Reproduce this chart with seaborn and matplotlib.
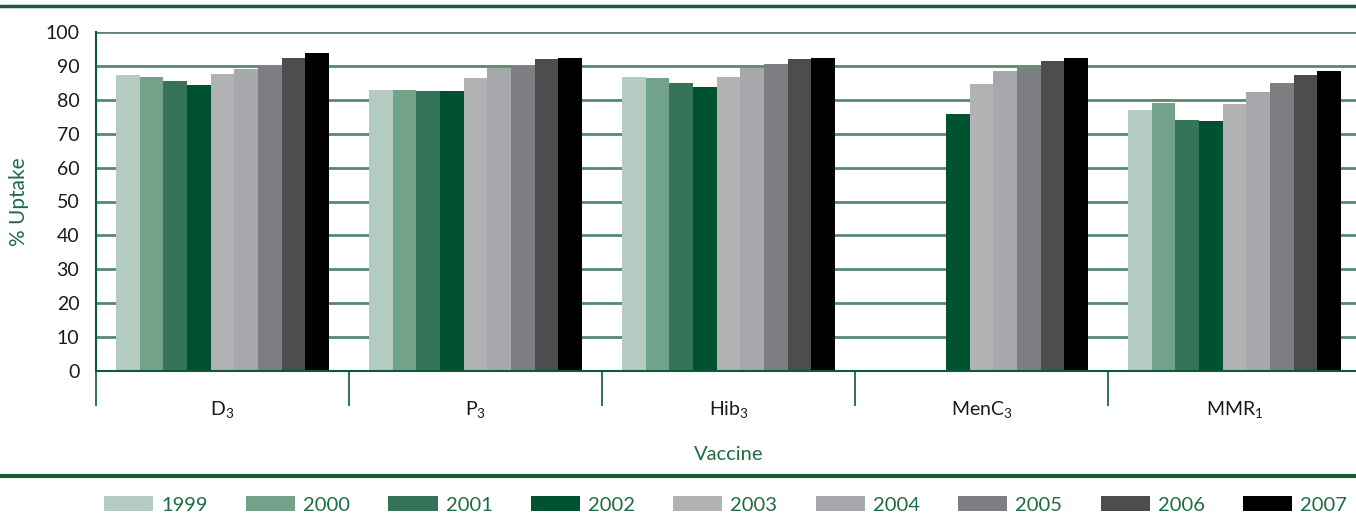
import matplotlib
matplotlib.use("Agg")
import numpy as np
import pandas as pd
import matplotlib.pyplot as plt
import seaborn as sns
from matplotlib.lines import Line2D

# data
vaccines = ["D$_3$", "P$_3$", "Hib$_3$", "MenC$_3$", "MMR$_1$"]
years = ["1999", "2000", "2001", "2002", "2003", "2004", "2005", "2006", "2007"]
d3 = [87.2, 86.6, 85.5, 84.3, 87.5, 89.0, 90.0, 92.3, 93.8]
p3 = [82.8, 82.8, 82.5, 82.5, 86.3, 89.3, 90.1, 92.0, 92.3]
hib3 = [86.6, 86.3, 84.9, 83.7, 86.6, 89.3, 90.5, 92.0, 92.3]
menc3 = [np.nan, np.nan, np.nan, 75.7, 84.6, 88.4, 89.3, 91.4, 92.3]
mmr1 = [77.1, 79.2, 73.9, 73.6, 78.9, 82.2, 84.9, 87.2, 88.4]
colors = ["#b4cbc1", "#73a28b", "#357459", "#005230", "#b1b2b4",
          "#a7a8ac", "#7d7e82", "#4d4d4f", "#000000"]

rows = []
for vac, vals in zip(vaccines, [d3, p3, hib3, menc3, mmr1]):
    for yr, v in zip(years, vals):
        rows.append({"Vaccine": vac, "Year": yr, "Uptake": v})
df = pd.DataFrame(rows)

sns.set_style("white")
plt.rcParams["font.family"] = ["Lato", "DejaVu Sans"]
plt.rcParams["mathtext.default"] = "regular"

green = "#1f6b44"
grid_green = "#548a70"

fig = plt.figure(figsize=(13.56, 5.14), dpi=100)
ax = fig.add_axes([96 / 1356, (514 - 371) / 514, 1265 / 1356, 339 / 514])

sns.barplot(data=df, x="Vaccine", y="Uptake", hue="Year", hue_order=years,
            order=vaccines, palette=colors, width=0.84, gap=0,
            saturation=1, linewidth=0, errorbar=None, ax=ax)

ax.set_ylim(0, 100)
ax.set_xlim(-0.5, len(vaccines) - 0.5)
ax.set_yticks(range(0, 101, 10))
ax.yaxis.grid(True, color=grid_green, linewidth=2)
ax.set_axisbelow(True)
for s in ["top", "right"]:
    ax.spines[s].set_visible(False)
ax.spines["left"].set_color("#0d5a35")
ax.spines["left"].set_linewidth(1.5)
ax.spines["bottom"].set_color("#0d5a35")
ax.spines["bottom"].set_linewidth(1.5)

ax.tick_params(axis="y", length=0, labelsize=14, pad=12, labelcolor="#1a1a1a")
ax.tick_params(axis="x", which="major", length=0, labelsize=14, pad=20,
               labelcolor="#1a1a1a")
ax.set_xticks(np.arange(-0.5, len(vaccines)), minor=True)
ax.tick_params(axis="x", which="minor", bottom=True, length=25, width=1.2,
               color="#0d5a35", direction="out")

ax.set_xlabel("Vaccine", fontsize=14.5, color=green, labelpad=19)
ax.set_ylabel("% Uptake", fontsize=15, color=green, labelpad=12)

leg = ax.legend(loc="center left", bbox_to_anchor=(8 / 1265, (9 - 143) / 339),
                ncol=9, frameon=False, fontsize=14.5, handlelength=2.44,
                handleheight=0.75, handletextpad=0.4, columnspacing=1.9,
                borderaxespad=0, borderpad=0)
for t in leg.get_texts():
    t.set_color(green)

fig.add_artist(Line2D([0, 1], [1 - 6 / 514, 1 - 6 / 514], color="#1a5c3a",
                      linewidth=2.5, transform=fig.transFigure))
fig.add_artist(Line2D([0, 1], [1 - 476 / 514, 1 - 476 / 514], color="#1a5c3a",
                      linewidth=3, transform=fig.transFigure))

fig.savefig("out.png", dpi=100)
